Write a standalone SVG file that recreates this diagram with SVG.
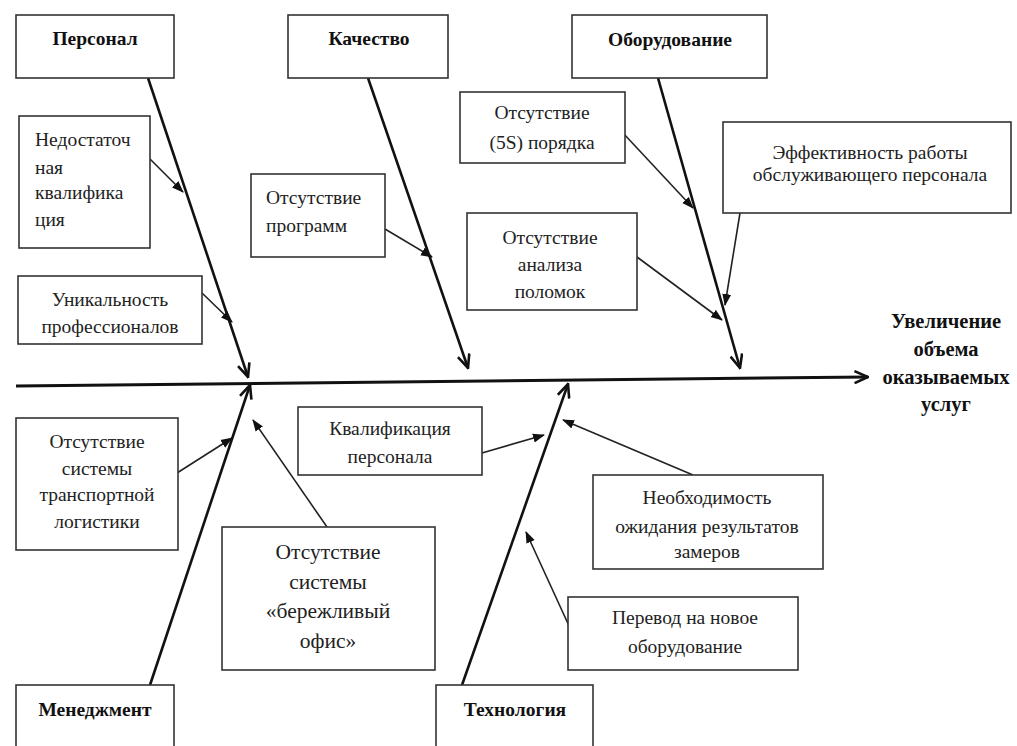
<svg xmlns="http://www.w3.org/2000/svg" width="1017" height="746" viewBox="0 0 1017 746">
<defs>
<style>
.box{fill:#fff;stroke:#333;stroke-width:1.6}
.t{font-family:"Liberation Serif","Times New Roman",serif;font-size:19.5px;fill:#222}
.c{text-anchor:middle}
.b{font-weight:bold;fill:#111}
.r{font-size:20.5px}
.big{font-size:21.5px}
.bone{stroke:#111;stroke-width:2.6;fill:none}
.axis{stroke:#111;stroke-width:3;fill:none}
.sub{stroke:#222;stroke-width:1.6;fill:none}
</style>
<marker id="open" markerUnits="userSpaceOnUse" viewBox="0 0 16 14" markerWidth="16" markerHeight="14" refX="14.5" refY="7" orient="auto">
<path d="M1,1 L14.5,7 L1,13" fill="none" stroke="#111" stroke-width="2.6"/>
</marker>
<marker id="fill" markerUnits="userSpaceOnUse" viewBox="0 0 12 10" markerWidth="12" markerHeight="10" refX="11" refY="5" orient="auto">
<path d="M0,0.5 L12,5 L0,9.5 z" fill="#111"/>
</marker>
</defs>
<rect width="1017" height="746" fill="#fff"/>

<g id="connectors">
<line class="axis" x1="16" y1="386" x2="868" y2="377" marker-end="url(#open)"/>
<line class="bone" x1="148" y1="78" x2="248" y2="377" marker-end="url(#open)"/>
<line class="bone" x1="368" y1="78" x2="468" y2="368" marker-end="url(#open)"/>
<line class="bone" x1="658" y1="78" x2="740" y2="368" marker-end="url(#open)"/>
<line class="bone" x1="150" y1="685" x2="250" y2="385" marker-end="url(#open)"/>
<line class="bone" x1="462" y1="685" x2="568" y2="384" marker-end="url(#open)"/>
<line class="sub" x1="150" y1="159" x2="183" y2="192" marker-end="url(#fill)"/>
<line class="sub" x1="202" y1="293" x2="232" y2="322" marker-end="url(#fill)"/>
<line class="sub" x1="385" y1="229" x2="432" y2="257" marker-end="url(#fill)"/>
<line class="sub" x1="623" y1="133" x2="693" y2="208" marker-end="url(#fill)"/>
<line class="sub" x1="637" y1="257" x2="722" y2="320" marker-end="url(#fill)"/>
<line class="sub" x1="740" y1="213" x2="725" y2="305" marker-end="url(#fill)"/>
<line class="sub" x1="177" y1="473" x2="232" y2="438" marker-end="url(#fill)"/>
<line class="sub" x1="327" y1="527" x2="253" y2="420" marker-end="url(#fill)"/>
<line class="sub" x1="482" y1="453" x2="544" y2="435" marker-end="url(#fill)"/>
<line class="sub" x1="693" y1="475" x2="563" y2="420" marker-end="url(#fill)"/>
<line class="sub" x1="570" y1="628" x2="526" y2="532" marker-end="url(#fill)"/>
</g>

<g id="personal">
<rect class="box" x="16" y="15" width="158" height="63"/>
<text class="t c b" x="95" y="45">Персонал</text>
</g>
<g id="quality">
<rect class="box" x="288" y="15" width="160" height="63"/>
<text class="t c b" x="369" y="45">Качество</text>
</g>
<g id="equipment">
<rect class="box" x="572" y="15" width="195" height="63"/>
<text class="t c b" x="670" y="46">Оборудование</text>
</g>
<g id="management">
<rect class="box" x="16" y="685" width="158" height="70"/>
<text class="t c b" x="95" y="716">Менеджмент</text>
</g>
<g id="technology">
<rect class="box" x="436" y="685" width="157" height="70"/>
<text class="t c b" x="515" y="716">Технология</text>
</g>

<g id="nedostatochnaya">
<rect class="box" x="19" y="116" width="131" height="132"/>
<text class="t" x="35" y="146">Недостаточ</text>
<text class="t" x="35" y="174">ная</text>
<text class="t" x="35" y="199">квалифика</text>
<text class="t" x="35" y="226">ция</text>
</g>
<g id="unikalnost">
<rect class="box" x="18" y="276" width="184" height="68"/>
<text class="t c" x="110" y="306">Уникальность</text>
<text class="t c" x="110" y="333">профессионалов</text>
</g>
<g id="programm">
<rect class="box" x="251" y="174" width="134" height="83"/>
<text class="t" x="266" y="204">Отсутствие</text>
<text class="t" x="266" y="232">программ</text>
</g>
<g id="poryadok">
<rect class="box" x="460" y="92" width="165" height="71"/>
<text class="t c" x="542" y="119">Отсутствие</text>
<text class="t c" x="542" y="149">(5S) порядка</text>
</g>
<g id="analiz">
<rect class="box" x="467" y="213" width="170" height="97"/>
<text class="t c" x="550" y="244">Отсутствие</text>
<text class="t c" x="550" y="271">анализа</text>
<text class="t c" x="550" y="298">поломок</text>
</g>
<g id="effektivnost">
<rect class="box" x="723" y="122" width="288" height="91"/>
<text class="t c" x="870" y="159">Эффективность работы</text>
<text class="t c" x="870" y="181">обслуживающего персонала</text>
</g>
<g id="result">
<text class="t c b r" x="946" y="328">Увеличение</text>
<text class="t c b r" x="946" y="356">объема</text>
<text class="t c b r" x="946" y="384">оказываемых</text>
<text class="t c b r" x="946" y="411">услуг</text>
</g>
<g id="logistika">
<rect class="box" x="16" y="418" width="162" height="132"/>
<text class="t c" x="97" y="448">Отсутствие</text>
<text class="t c" x="97" y="475">системы</text>
<text class="t c" x="97" y="501">транспортной</text>
<text class="t c" x="97" y="528">логистики</text>
</g>
<g id="berezhlivy">
<rect class="box" x="222" y="527" width="213" height="143"/>
<text class="t c big" x="328" y="559">Отсутствие</text>
<text class="t c big" x="328" y="589">системы</text>
<text class="t c big" x="328" y="618">«бережливый</text>
<text class="t c big" x="328" y="648">офис»</text>
</g>
<g id="kvalifikaciya">
<rect class="box" x="298" y="407" width="184" height="68"/>
<text class="t c" x="390" y="435">Квалификация</text>
<text class="t c" x="390" y="463">персонала</text>
</g>
<g id="neobhodimost">
<rect class="box" x="593" y="475" width="230" height="94"/>
<text class="t c" x="707" y="504">Необходимость</text>
<text class="t c" x="707" y="533">ожидания результатов</text>
<text class="t c" x="707" y="558">замеров</text>
</g>
<g id="perevod">
<rect class="box" x="568" y="597" width="230" height="73"/>
<text class="t c" x="685" y="624">Перевод на новое</text>
<text class="t c" x="685" y="653">оборудование</text>
</g>
</svg>
